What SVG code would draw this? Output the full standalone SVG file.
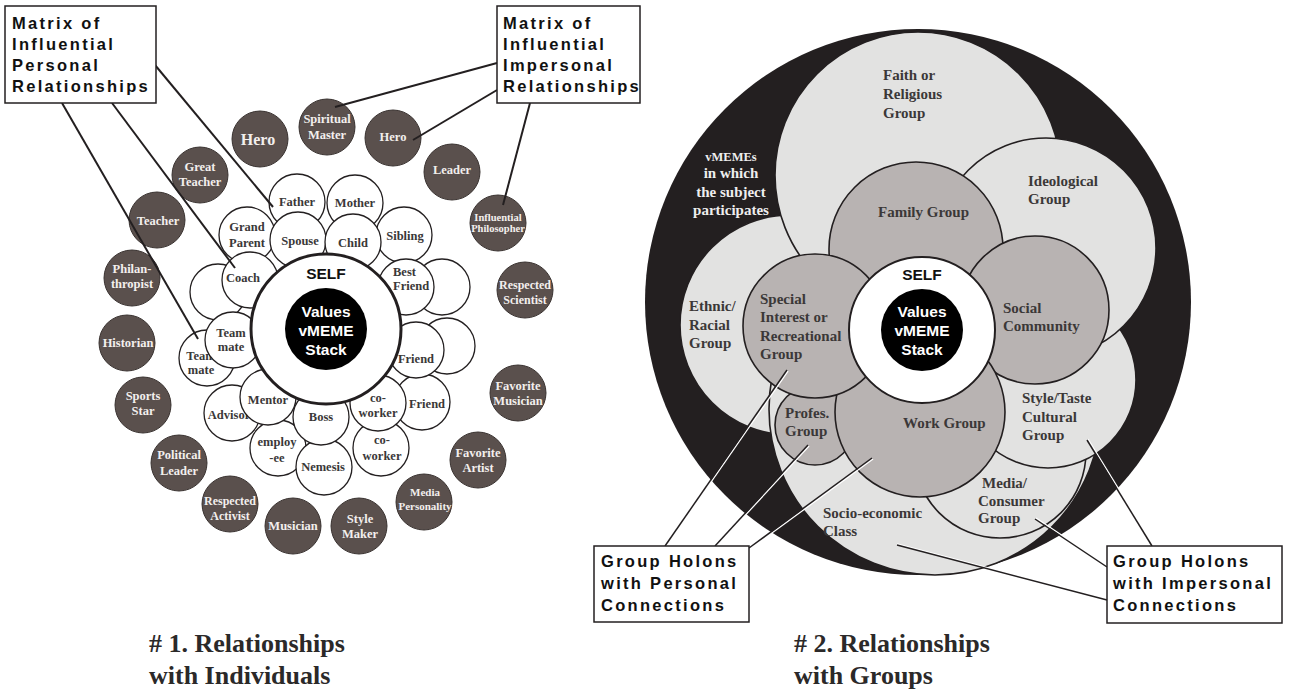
<svg xmlns="http://www.w3.org/2000/svg" width="1298" height="694" viewBox="0 0 1298 694">
<style>
.w{fill:#fff;stroke:#231f20;stroke-width:1.3}
.d{fill:#5a504d;stroke:#3a3331;stroke-width:1}
.wt{font-family:"Liberation Serif",serif;font-weight:bold;font-size:12.5px;fill:#3a3838;text-anchor:middle}
.dt{font-family:"Liberation Serif",serif;font-weight:bold;font-size:12.5px;fill:#f3efed;text-anchor:middle}
.co{font-family:"Liberation Sans",sans-serif;font-weight:bold;font-size:16.5px;letter-spacing:2.3px;fill:#111}
.box{fill:#fff;stroke:#231f20;stroke-width:1.5}
.ln{stroke:#231f20;stroke-width:2;fill:none}
.lk{stroke:#231f20;stroke-width:1.5;fill:none}
.lw{stroke:#fff;stroke-width:1.4;fill:none}
.lg{fill:#e2e2e1;stroke:#231f20;stroke-width:1.6}
.mg{fill:#b8b3b2;stroke:#231f20;stroke-width:1.6}
.rt{font-family:"Liberation Serif",serif;font-weight:bold;font-size:15px;fill:#3b3838}
.vt{font-family:"Liberation Serif",serif;font-weight:bold;font-size:15px;fill:#eeeeee;text-anchor:middle}
.sf{font-family:"Liberation Sans",sans-serif;font-weight:bold;font-size:15.5px;text-anchor:middle}
.ti{font-family:"Liberation Serif",serif;font-weight:bold;font-size:26px;fill:#2b2929}
</style>
<rect width="1298" height="694" fill="#fff"/>

<!-- ===== Diagram 1 ===== -->
<g id="outer-ring">
<g id="n-hero-l"><circle class="d" cx="260" cy="139" r="28"/><text class="dt" x="258" y="145" style="font-size:16px">Hero</text></g>
<g id="n-spiritual"><circle class="d" cx="327" cy="127" r="28"/><text class="dt" x="327" y="123">Spiritual</text><text class="dt" x="327" y="138.5">Master</text></g>
<g id="n-hero-r"><circle class="d" cx="393" cy="138" r="28"/><text class="dt" x="393" y="141">Hero</text></g>
<g id="n-leader"><circle class="d" cx="452" cy="172" r="28"/><text class="dt" x="452" y="173.5">Leader</text></g>
<g id="n-great-teacher"><circle class="d" cx="200" cy="175" r="28"/><text class="dt" x="200" y="171">Great</text><text class="dt" x="200" y="186">Teacher</text></g>
<g id="n-teacher"><circle class="d" cx="157" cy="220" r="28"/><text class="dt" x="158" y="224.5">Teacher</text></g>
<g id="n-philosopher"><circle class="d" cx="498" cy="223" r="28"/><text class="dt" x="498" y="220.5" style="font-size:10.5px">Influential</text><text class="dt" x="498" y="232" style="font-size:10.5px">Philosopher</text></g>
<g id="n-philanthropist"><circle class="d" cx="132" cy="278" r="28"/><text class="dt" x="132" y="273">Philan-</text><text class="dt" x="132" y="288">thropist</text></g>
<g id="n-scientist"><circle class="d" cx="525" cy="290" r="28"/><text class="dt" x="525" y="289" style="font-size:12px">Respected</text><text class="dt" x="525" y="304" style="font-size:12px">Scientist</text></g>
<g id="n-historian"><circle class="d" cx="127" cy="343" r="28"/><text class="dt" x="128" y="347">Historian</text></g>
<g id="n-fav-musician"><circle class="d" cx="518" cy="393" r="28"/><text class="dt" x="518" y="390">Favorite</text><text class="dt" x="518" y="404.5">Musician</text></g>
<g id="n-sports"><circle class="d" cx="143" cy="405" r="28"/><text class="dt" x="143" y="400">Sports</text><text class="dt" x="143" y="415">Star</text></g>
<g id="n-political"><circle class="d" cx="179" cy="463" r="28"/><text class="dt" x="179" y="459">Political</text><text class="dt" x="179" y="475">Leader</text></g>
<g id="n-fav-artist"><circle class="d" cx="478" cy="460" r="28"/><text class="dt" x="478" y="457">Favorite</text><text class="dt" x="478" y="472">Artist</text></g>
<g id="n-activist"><circle class="d" cx="230" cy="504" r="28"/><text class="dt" x="230" y="505" style="font-size:12px">Respected</text><text class="dt" x="230" y="520" style="font-size:12px">Activist</text></g>
<g id="n-media-pers"><circle class="d" cx="424" cy="502" r="28"/><text class="dt" x="425" y="495.5" style="font-size:11px">Media</text><text class="dt" x="425" y="510" style="font-size:11px">Personality</text></g>
<g id="n-musician"><circle class="d" cx="293" cy="526" r="28"/><text class="dt" x="293" y="530">Musician</text></g>
<g id="n-style-maker"><circle class="d" cx="359" cy="526" r="28"/><text class="dt" x="360" y="522.5">Style</text><text class="dt" x="360" y="537.5">Maker</text></g>
</g>

<g id="inner-ring">
<g id="n-empty1"><circle class="w" cx="218" cy="292" r="28"/></g>
<g id="n-empty2"><circle class="w" cx="442" cy="287" r="28"/></g>
<g id="n-empty3"><circle class="w" cx="447" cy="346" r="28"/></g>
<g id="n-teammate-out"><circle class="w" cx="207" cy="358" r="28"/><text class="wt" x="201" y="360">Team</text><text class="wt" x="201" y="374">mate</text></g>
<g id="n-advisor"><circle class="w" cx="232" cy="413" r="28"/><text class="wt" x="229" y="419">Advisor</text></g>
<g id="n-employee"><circle class="w" cx="278" cy="448" r="28"/><text class="wt" x="277" y="446">employ</text><text class="wt" x="277" y="462">-ee</text></g>
<g id="n-coworker2"><circle class="w" cx="381" cy="448" r="28"/><text class="wt" x="382" y="444">co-</text><text class="wt" x="382" y="460">worker</text></g>
<g id="n-nemesis"><circle class="w" cx="324" cy="467" r="28"/><text class="wt" x="323" y="471">Nemesis</text></g>
<g id="n-friend2"><circle class="w" cx="422" cy="402" r="28"/><text class="wt" x="427" y="408">Friend</text></g>
<g id="n-father"><circle class="w" cx="297" cy="202" r="28"/><text class="wt" x="297" y="206">Father</text></g>
<g id="n-mother"><circle class="w" cx="355" cy="203" r="28"/><text class="wt" x="355" y="207">Mother</text></g>
<g id="n-grandparent"><circle class="w" cx="247" cy="235" r="28"/><text class="wt" x="247" y="231">Grand</text><text class="wt" x="247" y="247">Parent</text></g>
<g id="n-sibling"><circle class="w" cx="404" cy="235" r="28"/><text class="wt" x="405" y="240">Sibling</text></g>
<g id="n-spouse"><circle class="w" cx="298" cy="240" r="28"/><text class="wt" x="300" y="245">Spouse</text></g>
<g id="n-child"><circle class="w" cx="353" cy="242" r="28"/><text class="wt" x="353" y="247">Child</text></g>
<g id="n-coach"><circle class="w" cx="250" cy="280" r="28"/><text class="wt" x="243" y="282">Coach</text></g>
<g id="n-bestfriend"><circle class="w" cx="406" cy="287" r="28"/><text class="wt" x="393" y="276" style="text-anchor:start">Best</text><text class="wt" x="393" y="290" style="text-anchor:start">Friend</text></g>
<g id="n-friend1"><circle class="w" cx="416" cy="350" r="28"/><text class="wt" x="416" y="363">Friend</text></g>
<g id="n-teammate-in"><circle class="w" cx="233" cy="340" r="28"/><text class="wt" x="231" y="337">Team</text><text class="wt" x="231" y="351">mate</text></g>
<g id="n-mentor"><circle class="w" cx="268" cy="397" r="28"/><text class="wt" x="268" y="404">Mentor</text></g>
<g id="n-boss"><circle class="w" cx="321" cy="417" r="28"/><text class="wt" x="321" y="421">Boss</text></g>
<g id="n-coworker1"><circle class="w" cx="378" cy="403" r="28"/><text class="wt" x="378" y="402">co-</text><text class="wt" x="378" y="417">worker</text></g>
</g>

<g id="n-self-1">
<circle cx="326" cy="329" r="75" fill="#fff" stroke="#231f20" stroke-width="3"/>
<circle cx="326" cy="329" r="41" fill="#000"/>
<text class="sf" x="326" y="279" fill="#111">SELF</text>
<text class="sf" x="326" y="317" fill="#fff">Values</text>
<text class="sf" x="326" y="336" fill="#fff">vMEME</text>
<text class="sf" x="326" y="355" fill="#fff">Stack</text>
</g>

<g id="connectors-1">
<line class="ln" x1="155" y1="65" x2="273" y2="207"/>
<line class="ln" x1="112" y1="103" x2="235" y2="268"/>
<line class="ln" x1="62" y1="103" x2="198" y2="339"/>
<line class="ln" x1="497" y1="63" x2="335" y2="107"/>
<line class="ln" x1="497" y1="90" x2="413" y2="140"/>
<line class="ln" x1="530" y1="103" x2="503" y2="205"/>
</g>

<g id="callout-personal">
<rect class="box" x="5" y="6" width="151" height="97"/>
<text class="co" x="12" y="29">Matrix of</text>
<text class="co" x="12" y="50">Influential</text>
<text class="co" x="12" y="71">Personal</text>
<text class="co" x="12" y="92">Relationships</text>
</g>
<g id="callout-impersonal">
<rect class="box" x="497" y="6" width="143" height="97"/>
<text class="co" x="503" y="29">Matrix of</text>
<text class="co" x="503" y="50">Influential</text>
<text class="co" x="503" y="71">Impersonal</text>
<text class="co" x="503" y="92">Relationships</text>
</g>

<g id="title-1">
<text class="ti" x="149" y="652"># 1. Relationships</text>
<text class="ti" x="149" y="684">with Individuals</text>
</g>

<!-- ===== Diagram 2 ===== -->
<g id="ring"><circle cx="918" cy="302" r="273" fill="#231f20"/></g>
<g id="g-ethnic"><circle class="lg" cx="790" cy="325" r="110"/></g>
<g id="g-faith"><circle class="lg" cx="918" cy="175" r="143"/></g>
<g id="g-socio"><circle class="lg" cx="935" cy="409" r="166"/></g>
<g id="g-media"><circle class="lg" cx="1000" cy="452" r="86"/></g>
<g id="g-style"><circle class="lg" cx="1048" cy="380" r="88"/></g>
<g id="g-ideological"><circle class="lg" cx="1046" cy="248" r="110"/></g>
<g id="g-family"><circle class="mg" cx="916" cy="249" r="87"/></g>
<g id="g-social"><circle class="mg" cx="1035" cy="310" r="74"/></g>
<g id="g-profes"><circle class="mg" cx="815" cy="425" r="40"/></g>
<g id="g-work"><circle class="mg" cx="920" cy="412" r="85"/></g>
<g id="g-special"><circle class="mg" cx="815" cy="326" r="72"/></g>

<g id="ring-label">
<text class="vt" x="731" y="161" style="font-size:12.5px">vMEMEs</text>
<text class="vt" x="731" y="178">in which</text>
<text class="vt" x="731" y="197">the subject</text>
<text class="vt" x="731" y="215">participates</text>
</g>

<g id="group-labels">
<text class="rt" x="883" y="80">Faith or</text>
<text class="rt" x="883" y="99">Religious</text>
<text class="rt" x="883" y="118">Group</text>
<text class="rt" x="878" y="217">Family Group</text>
<text class="rt" x="1028" y="186">Ideological</text>
<text class="rt" x="1028" y="204">Group</text>
<text class="rt" x="1003" y="313">Social</text>
<text class="rt" x="1003" y="331">Community</text>
<text class="rt" x="689" y="311">Ethnic/</text>
<text class="rt" x="689" y="330">Racial</text>
<text class="rt" x="689" y="348">Group</text>
<text class="rt" x="760" y="304">Special</text>
<text class="rt" x="760" y="322">Interest or</text>
<text class="rt" x="760" y="341">Recreational</text>
<text class="rt" x="760" y="359">Group</text>
<text class="rt" x="785" y="418">Profes.</text>
<text class="rt" x="785" y="436">Group</text>
<text class="rt" x="903" y="428">Work Group</text>
<text class="rt" x="1022" y="403">Style/Taste</text>
<text class="rt" x="1022" y="422">Cultural</text>
<text class="rt" x="1022" y="440">Group</text>
<text class="rt" x="982" y="488">Media/</text>
<text class="rt" x="978" y="506">Consumer</text>
<text class="rt" x="978" y="523">Group</text>
<text class="rt" x="823" y="518">Socio-economic</text>
<text class="rt" x="823" y="536">Class</text>
</g>

<g id="n-self-2">
<circle cx="922" cy="330" r="73" fill="#fff" stroke="#231f20" stroke-width="2"/>
<circle cx="922" cy="330" r="41" fill="#000"/>
<text class="sf" x="922" y="280" fill="#111">SELF</text>
<text class="sf" x="922" y="317" fill="#fff">Values</text>
<text class="sf" x="922" y="336" fill="#fff">vMEME</text>
<text class="sf" x="922" y="355" fill="#fff">Stack</text>
</g>

<g id="connectors-2">
<line class="lw" x1="666" y1="547" x2="788" y2="371"/>
<line class="lk" x1="665" y1="546" x2="787" y2="370"/>
<line class="lw" x1="716" y1="547" x2="809" y2="446"/>
<line class="lk" x1="715" y1="546" x2="808" y2="445"/>
<line class="lw" x1="750" y1="549" x2="873" y2="459"/>
<line class="lk" x1="749" y1="548" x2="872" y2="458"/>
<line class="lw" x1="1088" y1="439" x2="1153" y2="545"/>
<line class="lk" x1="1087" y1="440" x2="1152" y2="546"/>
<line class="lw" x1="1036" y1="518" x2="1108" y2="566"/>
<line class="lk" x1="1035" y1="519" x2="1107" y2="567"/>
<line class="lw" x1="897" y1="544" x2="1107" y2="599"/>
<line class="lk" x1="897" y1="545" x2="1107" y2="600"/>
</g>

<g id="callout-group-personal">
<rect class="box" x="594" y="546" width="155" height="76"/>
<text class="co" x="601" y="567">Group Holons</text>
<text class="co" x="601" y="589">with Personal</text>
<text class="co" x="601" y="611">Connections</text>
</g>
<g id="callout-group-impersonal">
<rect class="box" x="1107" y="546" width="175" height="77"/>
<text class="co" x="1113" y="567">Group Holons</text>
<text class="co" x="1113" y="589">with Impersonal</text>
<text class="co" x="1113" y="611">Connections</text>
</g>

<g id="title-2">
<text class="ti" x="794" y="652"># 2. Relationships</text>
<text class="ti" x="794" y="684">with Groups</text>
</g>
</svg>
